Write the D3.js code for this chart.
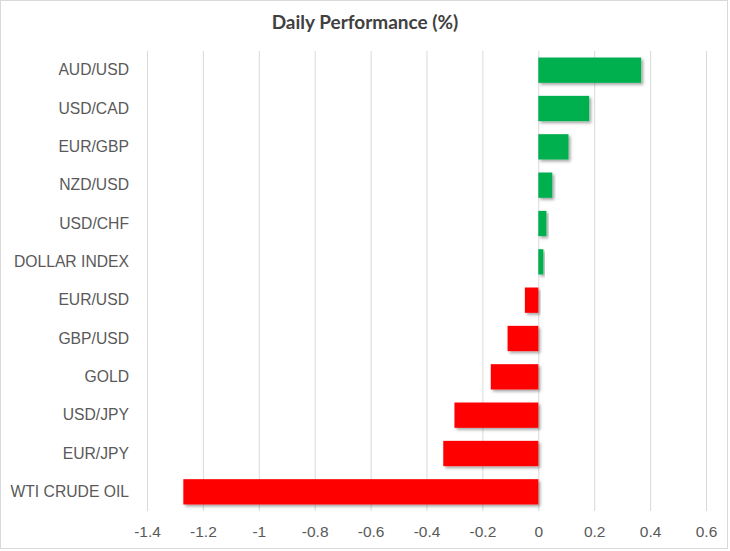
<!DOCTYPE html>
<html>
<head>
<meta charset="utf-8">
<script src="https://cdn.jsdelivr.net/npm/d3@7"></script>
<style>
  html, body { margin: 0; padding: 0; background: #fff; }
  svg { display: block; font-family: Lato, "Noto Sans", sans-serif; }
</style>
</head>
<body>
<div id="chart"></div>
<script>
const pairs = ["AUD/USD", "USD/CAD", "EUR/GBP", "NZD/USD", "USD/CHF", "DOLLAR INDEX",
  "EUR/USD", "GBP/USD", "GOLD", "USD/JPY", "EUR/JPY", "WTI CRUDE OIL"];
const changes = [0.368, 0.182, 0.108, 0.05, 0.029, 0.018,
  -0.048, -0.11, -0.17, -0.30, -0.34, -1.27];
const tickValues = [-1.4, -1.2, -1, -0.8, -0.6, -0.4, -0.2, 0, 0.2, 0.4, 0.6];

const width = 730;
const height = 551;
const margin = { top: 51, right: 24, bottom: 40, left: 147 };

const svg = d3.select("#chart")
  .append("svg")
  .attr("width", width)
  .attr("height", height);

// bars in the original have a soft shadow down-right
const filter = svg.append("defs").append("filter")
  .attr("id", "shadow")
  .attr("x", "-10%").attr("y", "-20%")
  .attr("width", "130%").attr("height", "160%");
filter.append("feDropShadow")
  .attr("dx", 2).attr("dy", 2)
  .attr("stdDeviation", 1.5)
  .attr("flood-color", "#000")
  .attr("flood-opacity", 0.35);

svg.append("rect")
  .attr("x", 0.5).attr("y", 0.5)
  .attr("width", width - 3).attr("height", height - 3)
  .attr("fill", "#fff")
  .attr("stroke", "#d9d9d9");

const x = d3.scaleLinear()
  .domain([-1.4, 0.6])
  .range([margin.left, width - margin.right]);

const y = d3.scaleBand()
  .domain(pairs)
  .range([margin.top, height - margin.bottom])
  .paddingInner(0.34)
  .paddingOuter(0.17);

// gridlines
svg.append("g")
  .attr("class", "gridlines")
  .attr("transform", `translate(0, ${height - margin.bottom})`)
  .call(d3.axisBottom(x).tickValues(tickValues).tickFormat("")
    .tickSize(-(height - margin.top - margin.bottom)).tickSizeOuter(0))
  .call(g => g.select(".domain").remove())
  .call(g => g.selectAll("line").attr("stroke", "#d9d9d9"));

// x tick labels
svg.append("g")
  .attr("class", "x-axis")
  .attr("transform", `translate(0, ${height - margin.bottom})`)
  .call(d3.axisBottom(x).tickValues(tickValues).tickFormat(d => String(d))
    .tickSize(0).tickPadding(15))
  .call(g => g.select(".domain").remove())
  .call(g => g.selectAll("text")
    .attr("fill", "#595959")
    .style("font-size", "15.5px"));

svg.append("g")
  .attr("class", "bars")
  .selectAll("rect")
  .data(pairs.map((p, i) => ({ pair: p, value: changes[i] })))
  .join("rect")
  .attr("x", d => x(Math.min(0, d.value)))
  .attr("y", d => y(d.pair))
  .attr("width", d => Math.abs(x(d.value) - x(0)))
  .attr("height", y.bandwidth())
  .attr("fill", d => d.value >= 0 ? "#00b050" : "#ff0000")
  .attr("filter", "url(#shadow)");

// category labels
svg.append("g")
  .attr("class", "y-axis")
  .attr("transform", `translate(${margin.left}, 0)`)
  .call(d3.axisLeft(y).tickSize(0).tickPadding(18))
  .call(g => g.select(".domain").remove())
  .call(g => g.selectAll("text")
    .attr("fill", "#595959")
    .style("font-size", "15.7px"));

svg.append("text")
  .attr("x", 365)
  .attr("y", 29)
  .attr("text-anchor", "middle")
  .attr("fill", "#404040")
  .style("font-size", "19px")
  .style("font-weight", "bold")
  .text("Daily Performance (%)");
</script>
</body>
</html>
